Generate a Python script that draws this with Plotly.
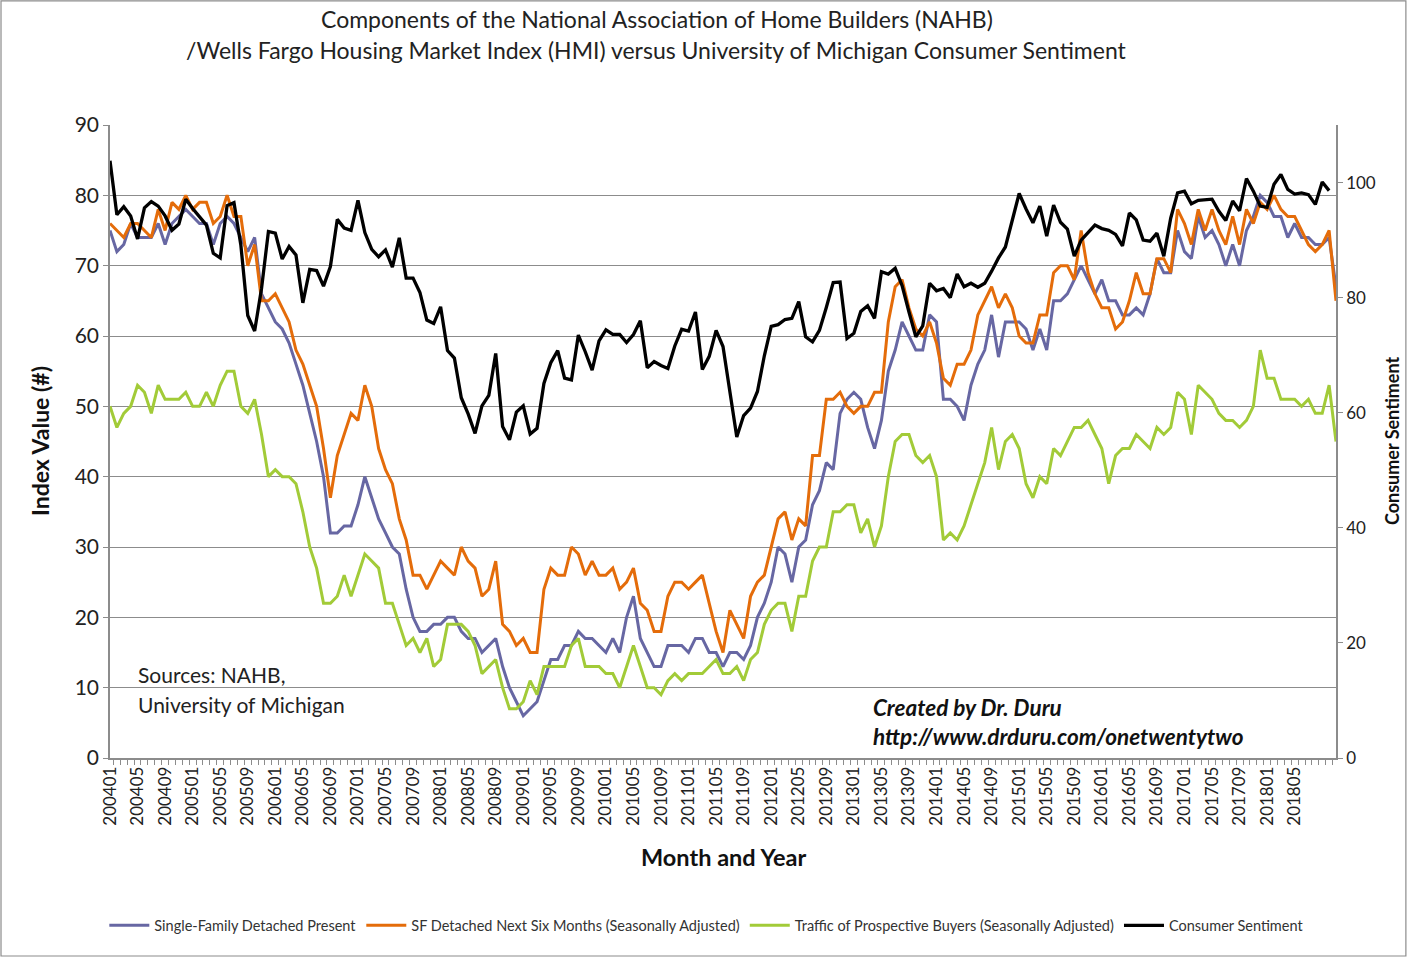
import plotly.graph_objects as go

# ---- data ----
months = [f"{y}{m:02d}" for y in range(2004, 2019) for m in range(1, 13)][:179]  # 200401 .. 201811

sf_present = [75, 72, 73, 76, 74, 74, 74, 76, 73, 76, 77, 78, 77, 76, 76, 73, 76, 77, 76, 74,
              72, 74, 66, 64, 62, 61, 59, 56, 53, 49, 45, 40, 32, 32, 33, 33, 36, 40, 37, 34,
              32, 30, 29, 24, 20, 18, 18, 19, 19, 20, 20, 18, 17, 17, 15, 16, 17, 13, 10, 8,
              6, 7, 8, 11, 14, 14, 16, 16, 18, 17, 17, 16, 15, 17, 15, 20, 23, 17, 15, 13,
              13, 16, 16, 16, 15, 17, 17, 15, 15, 13, 15, 15, 14, 16, 20, 22, 25, 30, 29, 25,
              30, 31, 36, 38, 42, 41, 49, 51, 52, 51, 47, 44, 48, 55, 58, 62, 60, 58, 58, 63,
              62, 51, 51, 50, 48, 53, 56, 58, 63, 57, 62, 62, 62, 61, 58, 61, 58, 65, 65, 66,
              68, 70, 68, 66, 68, 65, 65, 63, 63, 64, 63, 66, 71, 69, 69, 75, 72, 71, 77, 74,
              75, 73, 70, 73, 70, 75, 77, 80, 79, 77, 77, 74, 76, 74, 74, 73, 73, 74, 67]

sf_next6 = [76, 75, 74, 76, 76, 75, 74, 78, 75, 79, 78, 80, 78, 79, 79, 76, 77, 80, 77, 77,
            70, 73, 65, 65, 66, 64, 62, 58, 56, 53, 50, 44, 37, 43, 46, 49, 48, 53, 50, 44,
            41, 39, 34, 31, 26, 26, 24, 26, 28, 27, 26, 30, 28, 27, 23, 24, 28, 19, 18, 16,
            17, 15, 15, 24, 27, 26, 26, 30, 29, 26, 28, 26, 26, 27, 24, 25, 27, 22, 21, 18,
            18, 23, 25, 25, 24, 25, 26, 22, 18, 15, 21, 19, 17, 23, 25, 26, 30, 34, 35, 31,
            34, 33, 43, 43, 51, 51, 52, 50, 49, 50, 50, 52, 52, 62, 67, 68, 64, 61, 60, 62,
            59, 54, 53, 56, 56, 58, 63, 65, 67, 64, 66, 64, 60, 59, 59, 63, 63, 69, 70, 70,
            68, 75, 69, 66, 64, 64, 61, 62, 65, 69, 66, 66, 71, 71, 69, 78, 76, 73, 78, 75,
            78, 75, 73, 77, 73, 78, 76, 79, 78, 80, 78, 77, 77, 75, 73, 72, 73, 75, 65]

traffic = [50, 47, 49, 50, 53, 52, 49, 53, 51, 51, 51, 52, 50, 50, 52, 50, 53, 55, 55, 50,
           49, 51, 46, 40, 41, 40, 40, 39, 35, 30, 27, 22, 22, 23, 26, 23, 26, 29, 28, 27,
           22, 22, 19, 16, 17, 15, 17, 13, 14, 19, 19, 19, 18, 16, 12, 13, 14, 10, 7, 7,
           8, 11, 9, 13, 13, 13, 13, 16, 17, 13, 13, 13, 12, 12, 10, 13, 16, 13, 10, 10,
           9, 11, 12, 11, 12, 12, 12, 13, 14, 12, 12, 13, 11, 14, 15, 19, 21, 22, 22, 18,
           23, 23, 28, 30, 30, 35, 35, 36, 36, 32, 34, 30, 33, 40, 45, 46, 46, 43, 42, 43,
           40, 31, 32, 31, 33, 36, 39, 42, 47, 41, 45, 46, 44, 39, 37, 40, 39, 44, 43, 45,
           47, 47, 48, 46, 44, 39, 43, 44, 44, 46, 45, 44, 47, 46, 47, 52, 51, 46, 53, 52,
           51, 49, 48, 48, 47, 48, 50, 58, 54, 54, 51, 51, 51, 50, 51, 49, 49, 53, 45]

sentiment = [103.8, 94.4, 95.8, 94.2, 90.2, 95.6, 96.7, 95.9, 94.2, 91.7, 92.8, 97.1,
             95.5, 94.1, 92.6, 87.7, 86.9, 96.0, 96.5, 89.1, 76.9, 74.2, 81.6, 91.5,
             91.2, 86.7, 88.9, 87.4, 79.1, 84.9, 84.7, 82.0, 85.4, 93.6, 92.1, 91.7,
             96.9, 91.3, 88.4, 87.1, 88.3, 85.3, 90.4, 83.4, 83.4, 80.9, 76.1, 75.5,
             78.4, 70.8, 69.5, 62.6, 59.8, 56.4, 61.2, 63.0, 70.3, 57.6, 55.3, 60.1,
             61.2, 56.3, 57.3, 65.1, 68.7, 70.8, 66.0, 65.7, 73.5, 70.6, 67.4, 72.5,
             74.4, 73.6, 73.6, 72.2, 73.6, 76.0, 67.8, 68.9, 68.2, 67.7, 71.6, 74.5,
             74.2, 77.5, 67.5, 69.8, 74.3, 71.5, 63.7, 55.8, 59.5, 60.8, 63.7, 69.9,
             75.0, 75.3, 76.2, 76.4, 79.3, 73.2, 72.3, 74.3, 78.3, 82.6, 82.7, 72.9,
             73.8, 77.6, 78.6, 76.4, 84.5, 84.1, 85.1, 82.1, 77.5, 73.2, 75.1, 82.5,
             81.2, 81.6, 80.0, 84.1, 81.9, 82.5, 81.8, 82.5, 84.6, 86.9, 88.8, 93.6,
             98.1, 95.4, 93.0, 95.9, 90.7, 96.1, 93.1, 91.9, 87.2, 90.0, 91.3, 92.6,
             92.0, 91.7, 91.0, 89.0, 94.7, 93.5, 90.0, 89.8, 91.2, 87.2, 93.8, 98.2,
             98.5, 96.3, 96.9, 97.0, 97.1, 95.0, 93.4, 96.8, 95.1, 100.7, 98.5, 95.9,
             95.7, 99.7, 101.4, 98.8, 98.0, 98.2, 97.9, 96.2, 100.1, 98.6]

tick_text = [m if i % 4 == 0 and m <= "201805" else "" for i, m in enumerate(months)]

FONT = "Lato"
GRID = "#8c8c8c"

fig = go.Figure()
fig.add_trace(go.Scatter(x=months, y=sf_present, mode="lines", name="Single-Family Detached Present",
                         line=dict(color="#6767A3", width=3)))
fig.add_trace(go.Scatter(x=months, y=sf_next6, mode="lines",
                         name="SF Detached Next Six Months (Seasonally Adjusted)",
                         line=dict(color="#E46C0A", width=3)))
fig.add_trace(go.Scatter(x=months, y=traffic, mode="lines",
                         name="Traffic of Prospective Buyers (Seasonally Adjusted)",
                         line=dict(color="#A2CB38", width=3)))
fig.add_trace(go.Scatter(x=months[:len(sentiment)], y=sentiment, mode="lines", name="Consumer Sentiment",
                         line=dict(color="#000000", width=3.3), yaxis="y2"))

fig.update_layout(
    width=1408, height=958,
    paper_bgcolor="white", plot_bgcolor="white",
    margin=dict(l=110, r=72, t=125, b=200),
    font=dict(family=FONT, color="#222"),
    xaxis=dict(type="category", tickmode="array", tickvals=months, ticktext=tick_text,
               tickangle=-90, tickfont=dict(size=17, color="#222"),
               ticks="outside", ticklen=5, tickcolor=GRID, tickson="boundaries",
               showline=True, linecolor=GRID, linewidth=1.5, showgrid=False, zeroline=False),
    yaxis=dict(range=[0, 90], dtick=10, tick0=0, showgrid=True, gridcolor=GRID, gridwidth=1.3,
               showline=True, linecolor=GRID, linewidth=1.5, ticks="outside", ticklen=5,
               tickcolor=GRID, tickfont=dict(size=21, color="#222"), zeroline=False),
    yaxis2=dict(range=[0, 110], overlaying="y", side="right", tickvals=[0, 20, 40, 60, 80, 100],
                showgrid=False, showline=True, linecolor=GRID, linewidth=1.5, ticks="outside",
                ticklen=5, tickcolor=GRID, tickfont=dict(size=17, color="#222"), zeroline=False),
    legend=dict(orientation="h", xref="container", yref="container", x=0.502, xanchor="center",
                y=0.034, yanchor="middle", font=dict(size=14.5, color="#333"), itemwidth=40,
                bgcolor="rgba(0,0,0,0)"),
    showlegend=True,
)

annotations = [
    dict(text="Components of the National Association of Home Builders (NAHB)", x=0.446, y=1.1675,
         font=dict(size=23, color="#222")),
    dict(text="/Wells Fargo Housing Market Index (HMI) versus University of Michigan Consumer Sentiment",
         x=0.446, y=1.1185, font=dict(size=23, color="#222")),
    dict(text="Sources: NAHB,", x=0.0212, y=0.1327, xanchor="left", font=dict(size=21, color="#222")),
    dict(text="University of Michigan", x=0.0212, y=0.0853, xanchor="left", font=dict(size=21, color="#222")),
    dict(text="<b><i>Created by Dr. Duru</i></b>", x=0.6207, y=0.079, xanchor="left",
         font=dict(size=22.5, color="#111")),
    dict(text="<b><i>http://www.drduru.com/onetwentytwo</i></b>", x=0.6207, y=0.0332, xanchor="left",
         font=dict(size=22.5, color="#111")),
    dict(text="<b>Month and Year</b>", x=0.5, y=-0.1564, font=dict(size=23.5, color="#111")),
    dict(text="<b>Index Value (#)</b>", x=-0.0571, y=0.5008, textangle=-90, font=dict(size=23, color="#111")),
    dict(text="<b>Consumer Sentiment</b>", x=1.0457, y=0.5008, textangle=-90, font=dict(size=18, color="#111")),
]
for a in annotations:
    a.setdefault("xanchor", "center")
    a.update(xref="paper", yref="paper", showarrow=False, yanchor="middle")
    fig.add_annotation(**a)

# chart border
fig.add_shape(type="rect", xref="paper", yref="paper", x0=-0.0889, x1=1.057, y0=-0.3128, y1=1.196,
              line=dict(color="#8c8c8c", width=1.2), fillcolor="rgba(0,0,0,0)", layer="below")

fig.write_html("out.html", config={"displayModeBar": False},
               post_script="document.body.style.margin='0px';document.body.style.padding='0px';")
